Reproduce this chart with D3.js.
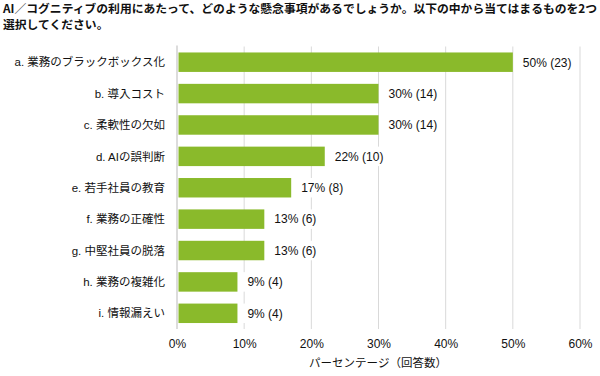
<!DOCTYPE html>
<html>
<head>
<meta charset="utf-8">
<script src="https://cdn.jsdelivr.net/npm/d3@7"></script>
<style>
  body { margin: 0; background: #fff; }
  text { font-family: "Liberation Sans", Arial, "Noto Sans CJK JP", sans-serif; }
</style>
</head>
<body>
<div id="canvas"></div>
<script>
const width = 600, height = 376;
const margin = { left: 177, right: 20, top: 46.5, bottom: 47 };

// data
const categories = ["a. 業務のブラックボックス化", "b. 導入コスト", "c. 柔軟性の欠如", "d. AIの誤判断",
  "e. 若手社員の教育", "f. 業務の正確性", "g. 中堅社員の脱落", "h. 業務の複雑化", "i. 情報漏えい"];
const percents = [50, 30, 30, 22, 17, 13, 13, 9, 9];
const counts = [23, 14, 14, 10, 8, 6, 6, 4, 4];
const ticks = [0, 10, 20, 30, 40, 50, 60];
const titleLines = ["AI／コグニティブの利用にあたって、どのような懸念事項があるでしょうか。以下の中から当てはまるものを2つ",
  "選択してください。"];
const axisTitle = "パーセンテージ（回答数）";

const rows = categories.map((c, i) => ({ cat: c, pct: percents[i], n: counts[i] }));

const x = d3.scaleLinear().domain([0, 60]).range([margin.left, 580]);
const y = d3.scaleBand().domain(categories).range([margin.top, height - margin.bottom]).paddingInner(0.38).paddingOuter(0.19);

const svg = d3.select("#canvas").append("svg")
  .attr("width", width).attr("height", height);

// title
svg.append("g").selectAll("text").data(titleLines).join("text")
  .attr("x", 3).attr("y", (d, i) => 13 + i * 16)
  .style("font-family", "'Noto Sans CJK JP', sans-serif")
  .style("font-weight", "bold").style("font-size", "11.8px").attr("fill", "#111")
  .text(d => d);

// gridlines
svg.append("g").selectAll("line").data(ticks.slice(1)).join("line")
  .attr("x1", d => x(d)).attr("x2", d => x(d))
  .attr("y1", margin.top).attr("y2", height - margin.bottom)
  .attr("stroke", "#d9d9d9").attr("stroke-width", 1);

// bars
svg.append("g").selectAll("rect").data(rows).join("rect")
  .attr("x", x(0) + 1.5).attr("y", d => y(d.cat))
  .attr("width", d => x(d.pct) - x(0) - 1.5).attr("height", y.bandwidth())
  .attr("fill", "#8aba2b");

// value labels with white background
const lab = svg.append("g").selectAll("g").data(rows).join("g");
lab.append("rect")
  .attr("x", d => x(d.pct) + 1).attr("y", d => y(d.cat))
  .attr("width", 58).attr("height", y.bandwidth())
  .attr("fill", "#fff");
lab.append("text")
  .attr("x", d => x(d.pct) + 10).attr("y", d => y(d.cat) + y.bandwidth() / 2)
  .attr("dy", "0.36em").style("font-size", "12px").attr("fill", "#111")
  .text(d => `${d.pct}% (${d.n})`);

// axis line
svg.append("line")
  .attr("x1", x(0)).attr("x2", x(0))
  .attr("y1", margin.top - 1).attr("y2", height - margin.bottom)
  .attr("stroke", "#d0d0d0").attr("stroke-width", 1.5);

// category labels
svg.append("g").selectAll("text").data(categories).join("text")
  .attr("x", 165).attr("y", d => y(d) + y.bandwidth() / 2)
  .attr("dy", "0.36em").attr("text-anchor", "end")
  .style("font-size", "11.5px").attr("fill", "#111")
  .text(d => d);

// x axis
const xAxis = svg.append("g")
  .attr("transform", `translate(0,${height - margin.bottom})`)
  .call(d3.axisBottom(x).tickValues(ticks).tickFormat(d => d + "%").tickSize(0).tickPadding(10));
xAxis.select(".domain").remove();
xAxis.selectAll("text").style("font-size", "12px").attr("fill", "#111")
  .style("font-family", "'Liberation Sans', Arial, sans-serif");

svg.append("text")
  .attr("x", 378).attr("y", 367).attr("text-anchor", "middle")
  .style("font-size", "11.5px").attr("fill", "#111")
  .text(axisTitle);
</script>
</body>
</html>
